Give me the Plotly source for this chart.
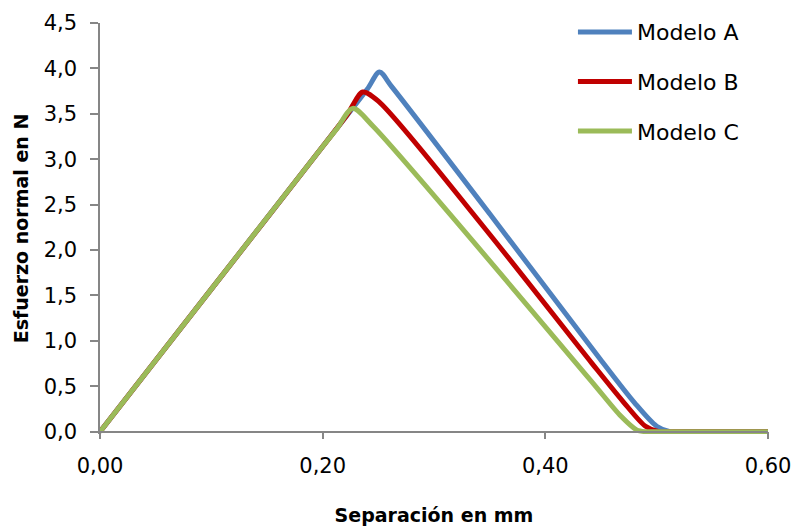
import plotly.graph_objects as go

# Data
sep_a = [0, 0.10, 0.20, 0.24, 0.251, 0.262, 0.35, 0.4492, 0.48, 0.50, 0.512, 0.525, 0.60]
esf_a = [0, 1.57, 3.14, 3.77, 3.96, 3.80, 2.40, 0.80, 0.32, 0.06, 0.0, 0.0, 0.0]

sep_b = [0, 0.10, 0.20, 0.222, 0.236, 0.25, 0.3443, 0.4417, 0.47, 0.49, 0.502, 0.515, 0.60]
esf_b = [0, 1.57, 3.14, 3.49, 3.74, 3.64, 2.26, 0.756, 0.33, 0.06, 0.0, 0.0, 0.0]

sep_c = [0, 0.10, 0.20, 0.213, 0.227, 0.2455, 0.4403, 0.468, 0.482, 0.49, 0.50, 0.60]
esf_c = [0, 1.57, 3.14, 3.34, 3.56, 3.36, 0.572, 0.17, 0.02, 0.0, 0.0, 0.0]

series_names = ["Modelo A", "Modelo B", "Modelo C"]
series_colors = ["#4F81BD", "#C00000", "#9BBB59"]

x_tickvals = [0, 0.2, 0.4, 0.6]
x_ticktext = ["0,00", "0,20", "0,40", "0,60"]
y_tickvals = [0, 0.5, 1.0, 1.5, 2.0, 2.5, 3.0, 3.5, 4.0, 4.5]
y_ticktext = ["0,0", "0,5", "1,0", "1,5", "2,0", "2,5", "3,0", "3,5", "4,0", "4,5"]

FONT = "DejaVu Sans"
axis_grey = "#868686"

fig = go.Figure()
for xs, ys, name, col in zip([sep_a, sep_b, sep_c], [esf_a, esf_b, esf_c], series_names, series_colors):
    fig.add_trace(go.Scatter(
        x=xs, y=ys, mode="lines", name=name, legendgroup=name,
        line=dict(color=col, width=5, shape="spline", smoothing=0.8),
    ))

y_lo = -0.025
y_hi = 4.5
fig.update_layout(
    width=793, height=527,
    margin=dict(l=100, r=25, t=23, b=93, autoexpand=False),
    paper_bgcolor="white", plot_bgcolor="white",
    font=dict(family=FONT, color="#000000"),
    showlegend=True,
    legend=dict(
        x=0.708, y=1.029, xanchor="left", yanchor="top",
        font=dict(family=FONT, size=22, color="#000000"),
        itemwidth=54, tracegroupgap=18, bgcolor="rgba(0,0,0,0)",
    ),
    xaxis=dict(
        range=[0, 0.6], tickvals=x_tickvals, ticktext=x_ticktext,
        showline=True, linecolor=axis_grey, linewidth=1.5,
        ticks="outside", ticklen=7, tickcolor=axis_grey, tickwidth=1.5,
        showgrid=False, zeroline=False, automargin=False,
        tickfont=dict(family=FONT, size=21),
        ticklabelstandoff=8,
        anchor="free", position=(0 - y_lo) / (y_hi - y_lo),
        title=dict(text="<b>Separación en mm</b>", font=dict(family=FONT, size=19), standoff=31),
    ),
    yaxis=dict(
        range=[y_lo, y_hi], tickvals=y_tickvals, ticktext=y_ticktext,
        showline=True, linecolor=axis_grey, linewidth=1.5,
        ticks="outside", ticklen=8, tickcolor=axis_grey, tickwidth=1.5,
        showgrid=False, zeroline=False, automargin=False,
        tickfont=dict(family=FONT, size=21),
        ticklabelstandoff=9,
        title=dict(text="<b>Esfuerzo normal en N</b>", font=dict(family=FONT, size=19), standoff=10),
    ),
)

fig.write_html(
    "out.html",
    config={"displayModeBar": False},
    post_script="document.body.style.margin='0';document.body.style.overflow='hidden';",
)
